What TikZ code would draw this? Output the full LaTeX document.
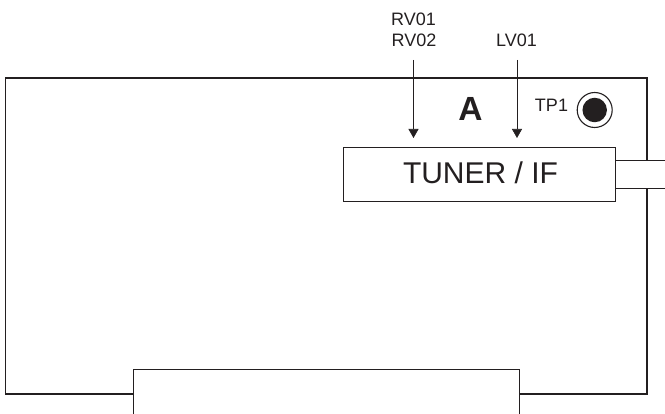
\documentclass[tikz,border=0pt]{standalone}
\usepackage{fontspec}
\setmainfont{Liberation Sans}
\usetikzlibrary{arrows.meta}
\definecolor{ink}{HTML}{231F20}
\tikzset{
  x=1pt,y=-1pt,
  thick line/.style={draw=ink,line width=1.6pt},
  thin line/.style={draw=ink,line width=1pt},
  arrow line/.style={draw=ink,line width=0.6pt,-{Triangle[length=9pt,width=10pt]}},
  label text/.style={inner sep=0pt,text=ink,font=\fontsize{18}{18}\selectfont,anchor=base},
}
\begin{document}
\begin{tikzpicture}
\useasboundingbox (0,0) rectangle (665,414);
% outer board
\draw[thick line,line cap=butt] (133.5,394) -- (5.5,394) -- (5.5,78) -- (646.7,78) -- (646.7,161);
\draw[thick line] (646.7,189) -- (646.7,394) -- (519,394);
% bottom box
\draw[thin line] (133.5,414) -- (133.5,370) -- (519,370) -- (519,414);
% tuner
\node[thin line,fill=white,minimum width=272.5pt,minimum height=53.5pt,inner sep=0pt,outer sep=0pt,anchor=north west] (tuner) at (343,148) {};
\node[inner sep=0pt,text=ink,font=\fontsize{30}{30}\selectfont,anchor=base] (tunertext) at (480.5,183.5) {TUNER / IF};
\draw[thin line] (tuner.north east |- 0,161) -- (665,161);
\draw[thin line] (tuner.north east |- 0,189) -- (665,189);
% labels
\node[inner sep=0pt,text=ink,font=\bfseries\fontsize{33.5}{33.5}\selectfont,anchor=base] (blockA) at (470.5,120.5) {A};
\node[label text] (tp) at (551.5,111.5) {TP1};
\node[label text] (rva) at (413.5,25.5) {RV01};
\node[label text] (rvb) at (414,47) {RV02};
\node[label text] (lv) at (516.5,47) {LV01};
% test point
\node[circle,draw=ink,line width=1.1pt,fill=white,minimum size=35pt,inner sep=0pt] (tpo) at (594.7,110) {};
\node[circle,fill=ink,minimum size=24.5pt,inner sep=0pt] (tpi) at (594.7,110) {};
% arrows
\coordinate (a1s) at (413.5,60); \coordinate (a1e) at (413.5,138);
\coordinate (a2s) at (517,60); \coordinate (a2e) at (517,138);
\draw[arrow line] (a1s) -- (a1e);
\draw[arrow line] (a2s) -- (a2e);
\end{tikzpicture}
\end{document}
